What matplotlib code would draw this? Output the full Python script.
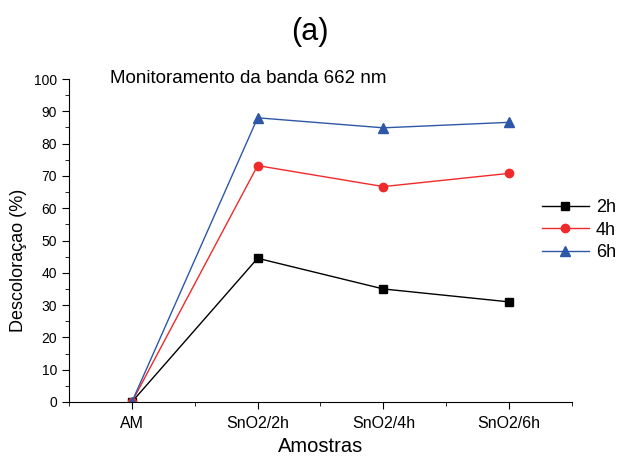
import matplotlib
matplotlib.use("Agg")
import matplotlib.pyplot as plt
from matplotlib.ticker import MultipleLocator

plt.rcParams['font.family'] = ['Liberation Sans', 'DejaVu Sans']

# dados
amostras = ["AM", "SnO2/2h", "SnO2/4h", "SnO2/6h"]
desc_2h = [0, 44.5, 35.0, 31.0]
desc_4h = [0, 73.2, 66.7, 70.8]
desc_6h = [0, 88.0, 84.9, 86.6]

x = list(range(len(amostras)))

fig = plt.figure(figsize=(6.19, 4.57), dpi=100)
ax = fig.add_axes([0.1115, 0.1204, 0.8125, 0.7066])

ax.plot(x, desc_2h, color='black', marker='s', markersize=6, lw=1, label='2h')
ax.plot(x, desc_4h, color='#f02a2a', marker='o', markersize=6, lw=1, label='4h')
ax.plot(x, desc_6h, color='#2f57a8', marker='^', markersize=7, lw=1, label='6h')

ax.set_xlim(-0.5, 3.5)
ax.set_ylim(0, 100)
ax.set_xticks(x)
ax.set_xticklabels(amostras)
ax.xaxis.set_minor_locator(MultipleLocator(0.5))
ax.yaxis.set_major_locator(MultipleLocator(10))
ax.yaxis.set_minor_locator(MultipleLocator(5))
ax.tick_params(which='major', direction='out', length=5, labelsize=10)
ax.tick_params(axis='x', which='major', labelsize=11.5, pad=5)
ax.tick_params(which='minor', direction='out', length=3)

for s in ['top', 'right']:
    ax.spines[s].set_visible(False)

ax.set_xlabel("Amostras", fontsize=14.5)
ax.xaxis.set_label_coords(0.5, -0.11)
ax.set_ylabel("Descoloraçao (%)", fontsize=13)
ax.yaxis.set_label_coords(-0.083, 0.44)

fig.text(0.5, 0.93, "(a)", fontsize=22, ha='center', va='center')
ax.text(0.082, 0.975, "Monitoramento da banda 662 nm", transform=ax.transAxes,
        fontsize=13.5, va='bottom')

ax.legend(loc='upper left', bbox_to_anchor=(0.875, 0.564),
          bbox_transform=fig.transFigure, frameon=False,
          fontsize=13, handlelength=2.6, handletextpad=0.4,
          borderaxespad=0, borderpad=0, labelspacing=0.3)

plt.savefig("out.png", dpi=100)
